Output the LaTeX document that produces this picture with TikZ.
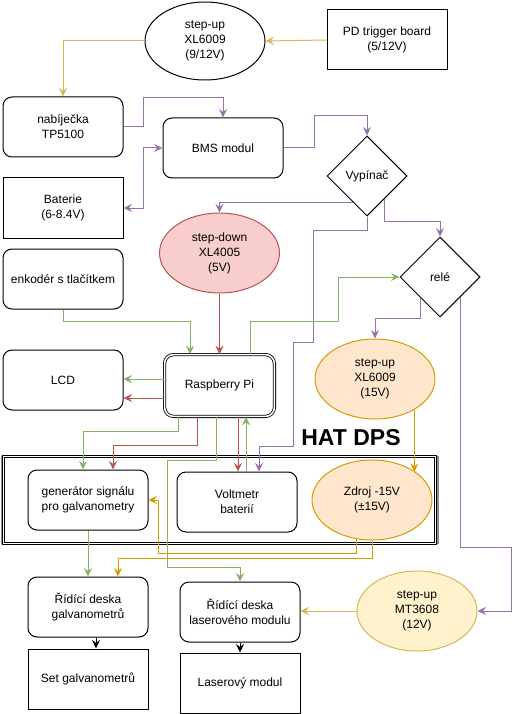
\documentclass[tikz,border=0pt]{standalone}
\usepackage{fontspec}
\setmainfont{Liberation Sans}
\usetikzlibrary{arrows.meta,calc,shapes.geometric}
\definecolor{cPurple}{HTML}{9673A6}
\definecolor{cGold}{HTML}{D6B656}
\definecolor{cGreen}{HTML}{82B366}
\definecolor{cRed}{HTML}{B85450}
\definecolor{cOrange}{HTML}{D79B00}
\definecolor{fRed}{HTML}{F8CECC}
\definecolor{fOrange}{HTML}{FFE6CC}
\definecolor{fYellow}{HTML}{FFF2CC}
\tikzset{
  base/.style={draw, line width=1pt, inner sep=0pt, align=center, font=\fontsize{12}{15}\selectfont},
  sqbox/.style={base, rectangle, minimum width=120pt, minimum height=60pt},
  rbox/.style={sqbox, rounded corners=9pt},
  ell/.style={base, ellipse, minimum width=120pt, minimum height=80pt},
  dia/.style={base, diamond, minimum width=80pt, minimum height=80pt},
  conn/.style={line width=1pt, -{Stealth[length=8.5pt,width=8pt,inset=3pt]}},
  both/.style={line width=1pt, {Stealth[length=8.5pt,width=8pt,inset=3pt]}-{Stealth[length=8.5pt,width=8pt,inset=3pt]}},
}
\begin{document}
\begin{tikzpicture}[x=1pt,y=-1pt]
\useasboundingbox (0,0) rectangle (519,714);
% HAT frame
\fill[gray!90] (0.5,456) rectangle (3.5,544);
\fill[gray!90] (435.5,456) rectangle (438.5,544);
\node[draw, double, line width=0.8pt, double distance=1.6pt, minimum width=431.8pt, minimum height=86.8pt, inner sep=0pt] (hat) at (219.5,500) {};
\node[font=\fontsize{23}{26}\selectfont\bfseries] (hatlbl) at (351,438) {HAT DPS};
% nodes
\node[ell] (su1) at (205,41) [minimum height=78pt] {step-up\\XL6009\\(9/12V)};
\node[sqbox] (pd) at (387,40) {PD trigger board\\(5/12V)};
\node[rbox] (nab) at (63,127) {nabíječka\\TP5100};
\node[rbox] (bms) at (223,148) {BMS modul};
\node[sqbox] (bat) at (63,208) {Baterie\\(6-8.4V)};
\node[dia] (vyp) at (367,176) {Vypínač};
\node[ell, draw=cRed, fill=fRed] (sd) at (219.5,253) {step-down\\XL4005\\(5V)};
\node[rbox] (enk) at (63,279) {enkodér s tlačítkem};
\node[dia] (rele) at (440,277) {relé};
\node[rbox] (lcd) at (63,380) {LCD};
\node[base, double, line width=0.8pt, double distance=1.6pt, rounded corners=9pt, minimum width=109.8pt, minimum height=61.8pt] (rpi) at (219.5,385.5) {Raspberry Pi};
\node[ell, draw=cOrange, fill=fOrange] (su15) at (375,379) {step-up\\XL6009\\(15V)};
\node[rbox] (gen) at (88,500) {generátor signálu\\pro galvanometry};
\node[rbox] (volt) at (237,502) {Voltmetr\\baterií};
\node[ell, draw=cOrange, fill=fOrange] (zdroj) at (372,500) {Zdroj -15V\\(±15V)};
\node[rbox] (rgalv) at (88,607) {Řídící deska\\galvanometrů};
\node[sqbox] (setg) at (88,679) {Set galvanometrů};
\node[rbox] (rlas) at (240,612) {Řídící deska\\laserového modulu};
\node[sqbox] (lasm) at (240,683) {Laserový modul};
\node[ell, draw=cGold, fill=fYellow] (mt) at (417,611) {step-up\\MT3608\\(12V)};
% connectors
\draw[conn, cGold] (pd.west) -- (su1.east);
\draw[conn, cGold] (su1.west) -| (nab.north);
\draw[conn, cPurple] (nab.east) -| (143,98) -| (bms.north);
\draw[both, cPurple] (bat.east) -| (143,148) -- (bms.west);
\draw[conn, cPurple] (bms.east) -| (314,116) -| (vyp.north);
\draw[conn, cPurple] ($(vyp.west)!0.65!(vyp.south)$) -| (sd.north);
\draw[conn, cPurple] (vyp.south) |- (313,230) |- (293,342) |- (259,446) -- (259,446 |- volt.north);
\draw[conn, cPurple] ($(vyp.east)!0.575!(vyp.south)$) |- ($(rele.north)+(0,-15)$) -- (rele.north);
\draw[conn, cGreen] (enk.south) |- (190,321) -- (190,321 |- rpi.north);
\draw[conn, cRed] (sd.south) -- (rpi.north);
\draw[conn, cGreen] ($(rpi.west)+(0,-6.5)$) coordinate (t1) -- (t1 -| lcd.east);
\draw[conn, cRed] ($(rpi.west)+(0,12.5)$) coordinate (t2) -- (t2 -| lcd.east);
\draw[conn, cGreen] ($(rpi.north)+(30.5,0)$) |- (338,321) |- (rele.west);
\draw[conn, cPurple] ($(rele.west)!0.525!(rele.south)$) |- ($(su15.north)+(0,-20)$) -- (su15.north);
\draw[conn, cOrange] (su15.-38) coordinate (t3) -- (t3 |- zdroj.33);
\draw[conn, cGreen] ($(rpi.south)+(-41.5,0)$) |- (83,431) -- (83,431 |- gen.north);
\draw[conn, cRed] ($(rpi.south)+(-22.5,0)$) |- (113,445) -- (113,445 |- gen.north);
\draw[conn, cGreen] ($(rpi.south)+(-3.5,0)$) |- (167,460) |- ($(rlas.north)+(0,-14)$) -- (rlas.north);
\draw[conn, cRed] ($(rpi.south)+(18.5,0)$) coordinate (t4) -- (t4 |- volt.north);
\draw[conn, cGreen] ($(volt.north)+(9,0)$) coordinate (t5) -- (t5 |- rpi.south);
\draw[conn, cOrange] (zdroj.-111) |- (158,553) |- (gen.east);
\draw[conn, cOrange] (zdroj.south) |- (118,558) -- (118,558 |- rgalv.north);
\draw[conn, cGreen] (gen.south) -- (rgalv.north);
\draw[conn, black] ($(rgalv.south)+(8,0)$) coordinate (t6) -- (t6 |- setg.north);
\draw[conn, black] (rlas.south) -- (lasm.north);
\draw[conn, cGold] (mt.west) -- (mt.west -| rlas.east);
\draw[conn, cPurple] ($(rele.east)!0.5!(rele.south)$) |- (511,547) |- (mt.east);
\end{tikzpicture}
\end{document}
